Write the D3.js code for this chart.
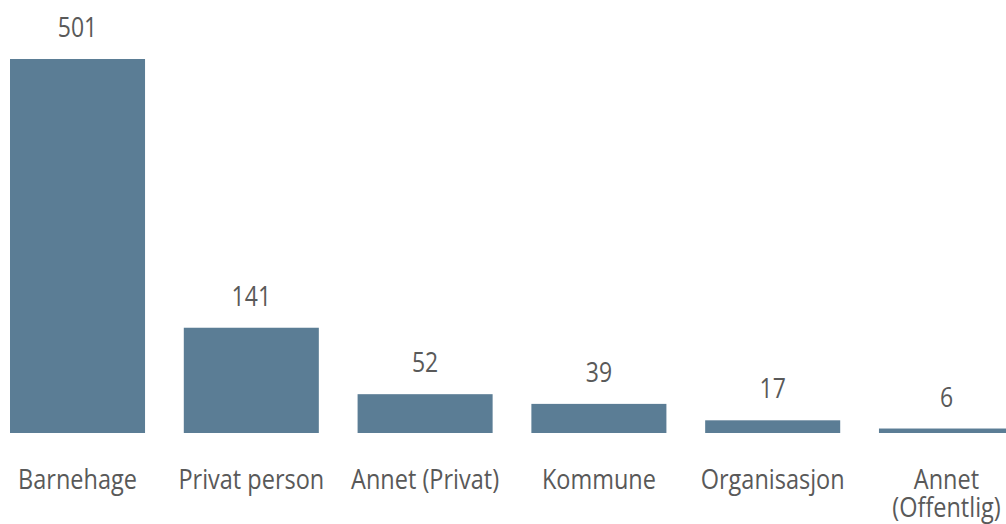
<!DOCTYPE html>
<html>
<head>
<meta charset="utf-8">
<script src="https://cdn.jsdelivr.net/npm/d3@7"></script>
<style>
  html, body { margin: 0; padding: 0; background: #fff; overflow: hidden; }
  svg { display: block; }
</style>
</head>
<body>
<svg id="chart"></svg>
<script>
    // categories (second line of a label after "|")
    var categories = ["Barnehage", "Privat person", "Annet (Privat)", "Kommune", "Organisasjon", "Annet|(Offentlig)"];
    var values = [501, 141, 52, 39, 17, 6];

    var width = 1006, height = 524;
    var barColor = "#5b7d95";
    var textColor = "#595959";
    var baseline = 433;
    var stretch = 1.18; // the source text is a bit taller than it is wide

    var svg = d3.select("#chart")
        .attr("width", width)
        .attr("height", height);

    var x = d3.scaleBand()
        .domain(d3.range(categories.length))
        .range([10, 1014])
        .paddingInner(0.223)
        .paddingOuter(0);

    var y = d3.scaleLinear()
        .domain([0, 501])
        .range([baseline, 59]);

    // bars
    svg.selectAll("rect.bar")
        .data(values)
        .enter()
        .append("rect")
        .attr("class", "bar")
        .attr("x", function(d, i) { return x(i); })
        .attr("y", function(d) { return y(d); })
        .attr("width", x.bandwidth())
        .attr("height", function(d) { return baseline - y(d); })
        .attr("fill", barColor);

    // value labels
    svg.selectAll("text.value")
        .data(values)
        .enter()
        .append("text")
        .attr("class", "value")
        .attr("transform", function(d, i) {
            return "translate(" + (x(i) + x.bandwidth() / 2) + "," + (y(d) - 22) + ") scale(1," + stretch + ")";
        })
        .attr("text-anchor", "middle")
        .style("font-family", "'Open Sans', sans-serif")
        .style("font-size", "23px")
        .style("fill", textColor)
        .text(function(d) { return d; });

    // category labels
    var cat = svg.selectAll("text.cat")
        .data(categories)
        .enter()
        .append("text")
        .attr("class", "cat")
        .attr("transform", function(d, i) {
            return "translate(" + (x(i) + x.bandwidth() / 2) + ",489) scale(1," + stretch + ")";
        })
        .attr("text-anchor", "middle")
        .style("font-family", "'Open Sans', sans-serif")
        .style("font-size", "23.5px")
        .style("fill", textColor);

    cat.each(function(d) {
        d3.select(this).selectAll("tspan")
            .data(d.split("|"))
            .enter()
            .append("tspan")
            .attr("x", 0)
            .attr("y", function(l, j) { return j * 28 / stretch; })
            .text(function(l) { return l; });
    });
</script>
</body>
</html>
